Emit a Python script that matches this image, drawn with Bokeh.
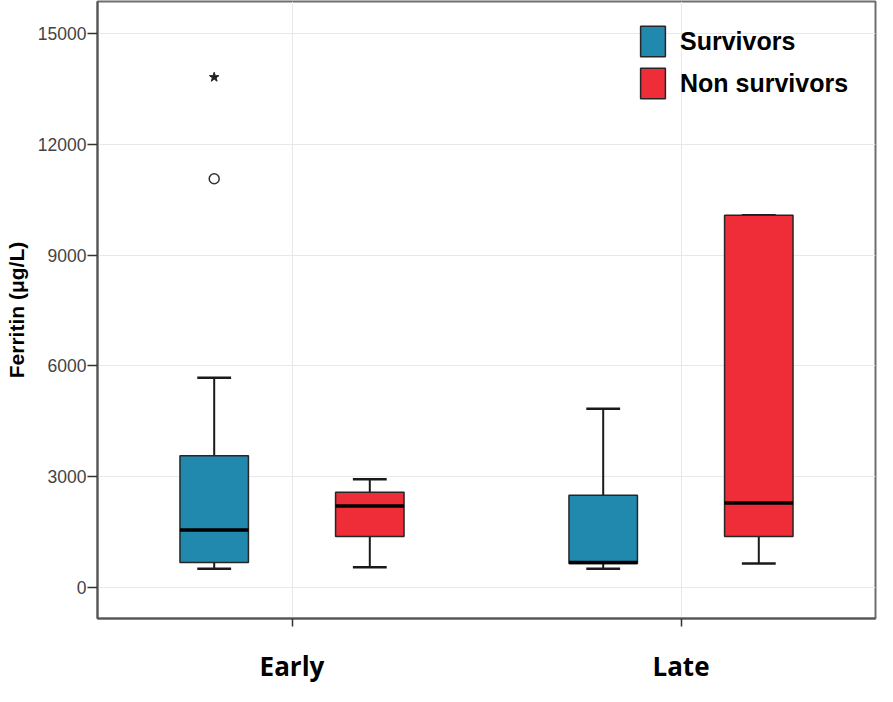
from bokeh.plotting import figure
from bokeh.models import ColumnDataSource, FactorRange, Range1d, FixedTicker
from bokeh.transform import dodge
from bokeh.embed import file_html
from bokeh.resources import INLINE

# ---- data ----
groups = ["Early", "Late"]
y_ticks = [0, 3000, 6000, 9000, 12000, 15000]

surv_lower = [510, 510]
surv_q1 = [680, 650]
surv_median = [1560, 680]
surv_q3 = [3570, 2500]
surv_upper = [5680, 4840]

ns_lower = [550, 650]
ns_q1 = [1380, 1380]
ns_median = [2210, 2290]
ns_q3 = [2580, 10080]
ns_upper = [2930, 10080]

outlier_group = ["Early"]
outlier_value = [11070]
extreme_group = ["Early"]
extreme_value = [13820]

series_names = ["Survivors", "Non survivors"]
colors = ["#2189AD", "#EE2D38"]

# ---- figure ----
p = figure(
    x_range=FactorRange(factors=groups, range_padding=0),
    y_range=Range1d(-840, 15870),
    width=877, height=686,
    output_backend="svg", toolbar_location=None,
    min_border_left=97, min_border_right=2, min_border_top=1, min_border_bottom=64,
    background_fill_color="white", border_fill_color="white",
)

p.outline_line_color = "#6e6e6e"
p.outline_line_width = 2

p.xgrid.grid_line_color = "#e8e8e8"
p.ygrid.grid_line_color = "#e8e8e8"
p.xgrid.grid_line_width = 1
p.ygrid.grid_line_width = 1

p.yaxis.ticker = FixedTicker(ticks=y_ticks)
p.yaxis.minor_tick_line_color = None
p.yaxis.major_tick_out = 10
p.yaxis.major_tick_in = 0
p.yaxis.major_tick_line_width = 1.5
p.yaxis.major_tick_line_color = "#333333"
p.yaxis.axis_line_color = "#555555"
p.yaxis.axis_line_width = 2
p.yaxis.major_label_text_font = "Liberation Sans"
p.yaxis.major_label_text_font_size = "17.5px"
p.yaxis.major_label_text_color = "#444444"
p.yaxis.major_label_standoff = 1
p.yaxis.axis_label = "Ferritin (μg/L)"
p.yaxis.axis_label_text_font = "Liberation Sans"
p.yaxis.axis_label_text_font_size = "21px"
p.yaxis.axis_label_text_font_style = "bold"
p.yaxis.axis_label_text_color = "black"
p.yaxis.axis_label_standoff = 7

p.xaxis.major_tick_out = 8
p.xaxis.major_tick_in = 0
p.xaxis.major_tick_line_width = 1.5
p.xaxis.major_tick_line_color = "#333333"
p.xaxis.axis_line_color = "#555555"
p.xaxis.axis_line_width = 2
p.xaxis.major_label_text_font = "Open Sans"
p.xaxis.major_label_text_font_size = "26px"
p.xaxis.major_label_text_font_style = "bold"
p.xaxis.major_label_text_color = "black"
p.xaxis.major_label_standoff = 21

box_w = 0.176
cap_w = 0.087
offsets = [-0.2, 0.2]
series = [
    (surv_lower, surv_q1, surv_median, surv_q3, surv_upper),
    (ns_lower, ns_q1, ns_median, ns_q3, ns_upper),
]

for name, col, off, (lo, q1, med, q3, up) in zip(series_names, colors, offsets, series):
    src = ColumnDataSource(dict(group=groups, lower=lo, q1=q1, median=med, q3=q3, upper=up))
    xc = dodge("group", off, range=p.x_range)
    # whiskers
    p.segment(x0=xc, x1=xc, y0="q3", y1="upper", line_color="#1a1a1a", line_width=2, source=src)
    p.segment(x0=xc, x1=xc, y0="q1", y1="lower", line_color="#1a1a1a", line_width=2, source=src)
    # caps
    p.segment(x0=dodge("group", off - cap_w / 2, range=p.x_range), x1=dodge("group", off + cap_w / 2, range=p.x_range),
              y0="upper", y1="upper", line_color="#1a1a1a", line_width=2.5, source=src)
    p.segment(x0=dodge("group", off - cap_w / 2, range=p.x_range), x1=dodge("group", off + cap_w / 2, range=p.x_range),
              y0="lower", y1="lower", line_color="#1a1a1a", line_width=2.5, source=src)
    # boxes
    p.vbar(x=xc, top="q3", bottom="q1", width=box_w,
           fill_color=col, line_color="#262626", line_width=1.5, source=src, legend_label=name)
    # median
    p.segment(x0=dodge("group", off - box_w / 2, range=p.x_range), x1=dodge("group", off + box_w / 2, range=p.x_range),
              y0="median", y1="median", line_color="black", line_width=3.5, source=src)

# outliers (survivors, early)
osrc = ColumnDataSource(dict(group=outlier_group, value=outlier_value))
p.scatter(x=dodge("group", -0.2, range=p.x_range), y="value", source=osrc, marker="circle",
          size=10, fill_color="white", line_color="#333333", line_width=1.5)
esrc = ColumnDataSource(dict(group=extreme_group, value=extreme_value))
p.scatter(x=dodge("group", -0.2, range=p.x_range), y="value", source=esrc, marker="star",
          size=10, fill_color="#222222", line_color="#222222", line_width=1)

leg = p.legend[0]
leg.location = (540, 516)
leg.background_fill_alpha = 0
leg.border_line_alpha = 0
leg.padding = 0
leg.margin = 0
leg.spacing = 4
leg.glyph_width = 31
leg.glyph_height = 38
leg.label_standoff = 12
leg.label_text_font = "Liberation Sans"
leg.label_text_font_size = "25px"
leg.label_text_font_style = "bold"
leg.label_text_color = "black"

open("out.html", "w").write(file_html(p, INLINE))
